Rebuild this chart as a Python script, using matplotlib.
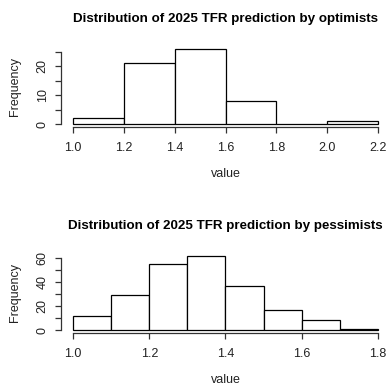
import matplotlib
matplotlib.use("Agg")
import matplotlib.pyplot as plt

plt.rcParams['font.family'] = ['Liberation Sans', 'DejaVu Sans']

# optimists: bin edges and counts
opt_edges = [1.0, 1.2, 1.4, 1.6, 1.8, 2.0, 2.2]
opt_counts = [2, 21, 26, 8, 0, 1]
opt_yticks = [0, 5, 10, 15, 20, 25]
opt_ylabels = ["0", "", "10", "", "20", ""]
opt_xticks = [1.0, 1.2, 1.4, 1.6, 1.8, 2.0, 2.2]

# pessimists: bin edges and counts
pes_edges = [1.0, 1.1, 1.2, 1.3, 1.4, 1.5, 1.6, 1.7, 1.8]
pes_counts = [12, 29, 55, 62, 37, 17, 8, 1]
pes_yticks = [0, 10, 20, 30, 40, 50, 60]
pes_ylabels = ["0", "", "20", "", "40", "", "60"]
pes_xticks = [1.0, 1.2, 1.4, 1.6, 1.8]

W, H = 387, 385
fig = plt.figure(figsize=(W / 100, H / 100), dpi=100)


def r_hist(rect, edges, counts, yticks, ylabels, xticks, title):
    ax = fig.add_axes(rect)
    widths = [edges[i + 1] - edges[i] for i in range(len(counts))]
    ax.bar(edges[:-1], counts, width=widths, align='edge',
           facecolor='white', edgecolor='black', linewidth=0.9)
    xr = edges[-1] - edges[0]
    ax.set_xlim(edges[0] - 0.04 * xr, edges[-1] + 0.04 * xr)
    top = max(counts)
    ax.set_ylim(-0.04 * top, top * 1.04)
    for s in ['top', 'right']:
        ax.spines[s].set_visible(False)
    ax.spines['left'].set_bounds(yticks[0], yticks[-1])
    ax.spines['bottom'].set_bounds(xticks[0], xticks[-1])
    for s in ['left', 'bottom']:
        ax.spines[s].set_linewidth(0.9)
        ax.spines[s].set_color('#333333')
    ax.set_xticks(xticks)
    ax.set_xticklabels([f"{v:.1f}" for v in xticks])
    ax.set_yticks(yticks)
    ax.set_yticklabels(ylabels, rotation=90, va='center')
    ax.tick_params(axis='both', length=4.3, width=0.9, color='#333333',
                   labelsize=9, labelcolor='#222222')
    ax.tick_params(axis='x', pad=6.5)
    ax.tick_params(axis='y', pad=4.5)
    ax.set_xlabel("value", fontsize=9, labelpad=10, color='#222222')
    ax.set_ylabel("Frequency", fontsize=9, labelpad=11, color='#222222')
    ax.set_title(title, fontsize=9.6, fontweight='bold', pad=17)
    ax.patch.set_visible(False)
    return ax


def frac(x0, y0, x1, y1):
    return [x0 / W, 1 - y1 / H, (x1 - x0) / W, (y1 - y0) / H]


r_hist(frac(61, 46, 390, 127), opt_edges, opt_counts, opt_yticks,
       opt_ylabels, opt_xticks,
       "Distribution of 2025 TFR prediction by optimists")
r_hist(frac(61, 253, 390, 333), pes_edges, pes_counts, pes_yticks,
       pes_ylabels, pes_xticks,
       "Distribution of 2025 TFR prediction by pessimists")

fig.savefig("out.png", dpi=100)
